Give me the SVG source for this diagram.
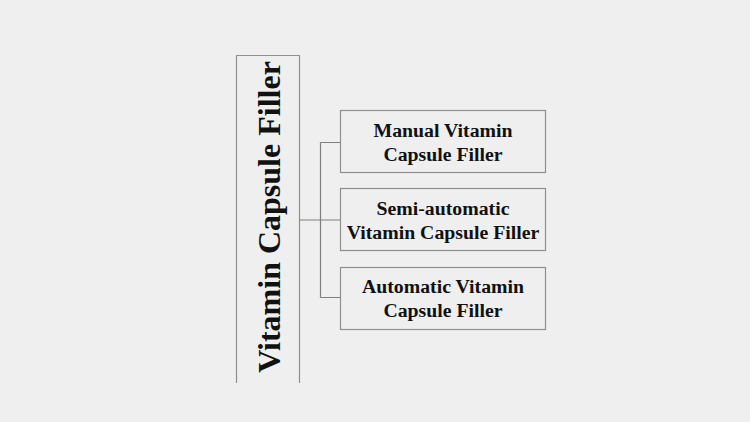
<svg xmlns="http://www.w3.org/2000/svg" width="750" height="422" viewBox="0 0 750 422">
<style>
.box{fill:none;stroke:#8f8f8f;stroke-width:1.2}
.conn{fill:none;stroke:#7f7f7f;stroke-width:1.2}
.t{font-family:"Liberation Serif","Times New Roman",serif;font-weight:bold;fill:#111;text-anchor:middle}
.s{font-size:19.8px}
</style>
<rect x="0" y="0" width="750" height="422" fill="#efefef"/>
<g id="root">
<path class="box" d="M236.5,383 V55.5 H299.5 V383"/>
<text class="t" x="0" y="0" font-size="32" transform="translate(280,217) rotate(-90)">Vitamin Capsule Filler</text>
</g>
<g id="connectors">
<path class="conn" d="M299.5,220 H320.5 M320.5,142.5 V297.5 M320.5,142.5 H340 M320.5,220 H340 M320.5,297.5 H340"/>
</g>
<g id="manual">
<rect class="box" x="340.5" y="110.5" width="205" height="62"/>
<text class="t s" x="443" y="137">Manual Vitamin</text>
<text class="t s" x="443" y="161">Capsule Filler</text>
</g>
<g id="semi">
<rect class="box" x="340.5" y="188.5" width="205" height="62"/>
<text class="t s" x="443" y="215">Semi-automatic</text>
<text class="t s" x="443" y="239">Vitamin Capsule Filler</text>
</g>
<g id="automatic">
<rect class="box" x="340.5" y="267.5" width="205" height="62"/>
<text class="t s" x="443" y="293">Automatic Vitamin</text>
<text class="t s" x="443" y="317">Capsule Filler</text>
</g>
</svg>
